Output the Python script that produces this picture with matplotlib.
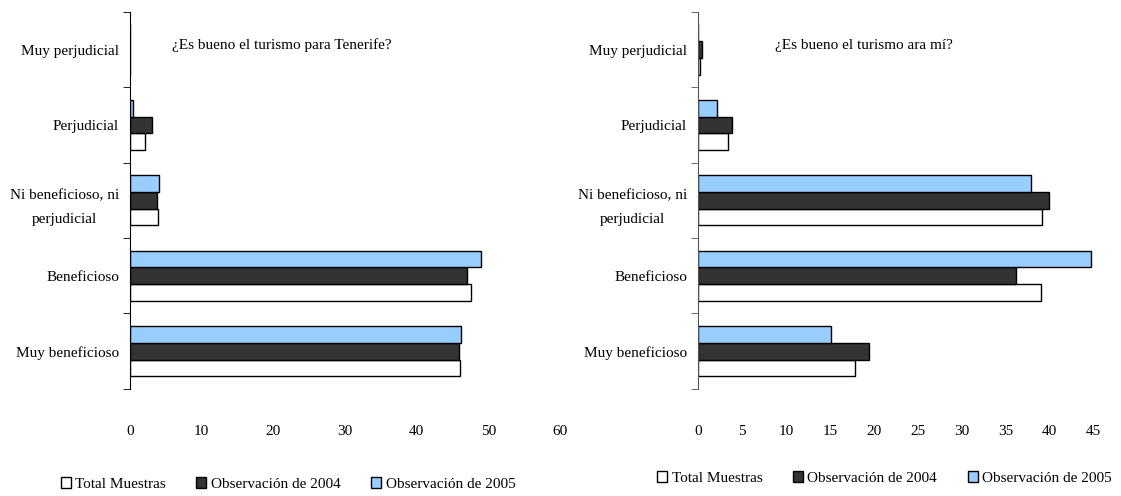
import numpy as np
import matplotlib.pyplot as plt
from matplotlib.patches import Patch

plt.rcParams['font.family'] = ['Liberation Serif', 'DejaVu Serif']

# categories bottom -> top
categories = ["Muy beneficioso", "Beneficioso", "Ni beneficioso, ni\nperjudicial",
              "Perjudicial", "Muy perjudicial"]
series_names = ["Total Muestras", "Observación de 2004", "Observación de 2005"]

# left: ¿Es bueno el turismo para Tenerife?
tenerife_total = [46.0, 47.6, 3.9, 2.1, 0.0]
tenerife_2004 = [45.9, 47.0, 3.7, 3.1, 0.0]
tenerife_2005 = [46.2, 49.0, 4.0, 0.45, 0.0]

# right: ¿Es bueno el turismo ara mí?
mi_total = [17.9, 39.1, 39.2, 3.4, 0.25]
mi_2004 = [19.5, 36.2, 39.9, 3.9, 0.5]
mi_2005 = [15.1, 44.7, 37.9, 2.2, 0.0]

colors = ["white", "#333333", "#99CCFF"]


def draw(ax, data, xmax, xstep, title, tx, spine_col):
    y = np.arange(len(categories))
    h = 0.222
    for k, vals in enumerate(data):
        ax.barh(y + (k - 1) * h, vals, height=h, color=colors[k],
                edgecolor="black", linewidth=1.0)
    ax.set_xlim(0, xmax)
    ax.set_ylim(-0.5, len(categories) - 0.5)
    ax.set_xticks(np.arange(0, xmax + 0.1, xstep))
    ax.tick_params(axis="x", length=0, pad=26, labelsize=11)
    ax.set_yticks(y)
    ax.set_yticklabels(categories, fontsize=11, multialignment="center",
                       linespacing=2.1)
    ax.tick_params(axis="y", which="major", length=0, pad=8)
    ax.set_yticks(np.arange(-0.5, len(categories), 1.0), minor=True)
    ax.tick_params(axis="y", which="minor", length=5, direction="out", color=spine_col)
    for s in ["top", "right", "bottom"]:
        ax.spines[s].set_visible(False)
    ax.spines["left"].set_color(spine_col)
    ax.text(tx, 0.912, title, transform=ax.transAxes, fontsize=11, va="center")


fig = plt.figure(figsize=(11.21, 4.96), dpi=100)
ax1 = fig.add_axes([0.116, 0.216, 0.3835, 0.760])
ax2 = fig.add_axes([0.6227, 0.216, 0.3526, 0.760])

draw(ax1, [tenerife_total, tenerife_2004, tenerife_2005], 60, 10,
     "¿Es bueno el turismo para Tenerife?", 0.098, "black")
draw(ax2, [mi_total, mi_2004, mi_2005], 45, 5,
     "¿Es bueno el turismo ara mí?", 0.195, "#555555")

handles = [Patch(facecolor=c, edgecolor="black", linewidth=1.0) for c in colors]
fig.legend(handles, series_names, loc="center", bbox_to_anchor=(0.257, 0.024),
           ncol=3, frameon=False, fontsize=11, handlelength=0.65, handleheight=0.65,
           handletextpad=0.3, columnspacing=2.0)
fig.legend(handles, series_names, loc="center", bbox_to_anchor=(0.789, 0.036),
           ncol=3, frameon=False, fontsize=11, handlelength=0.65, handleheight=0.65,
           handletextpad=0.3, columnspacing=2.0)

fig.savefig("out.png", dpi=100)
